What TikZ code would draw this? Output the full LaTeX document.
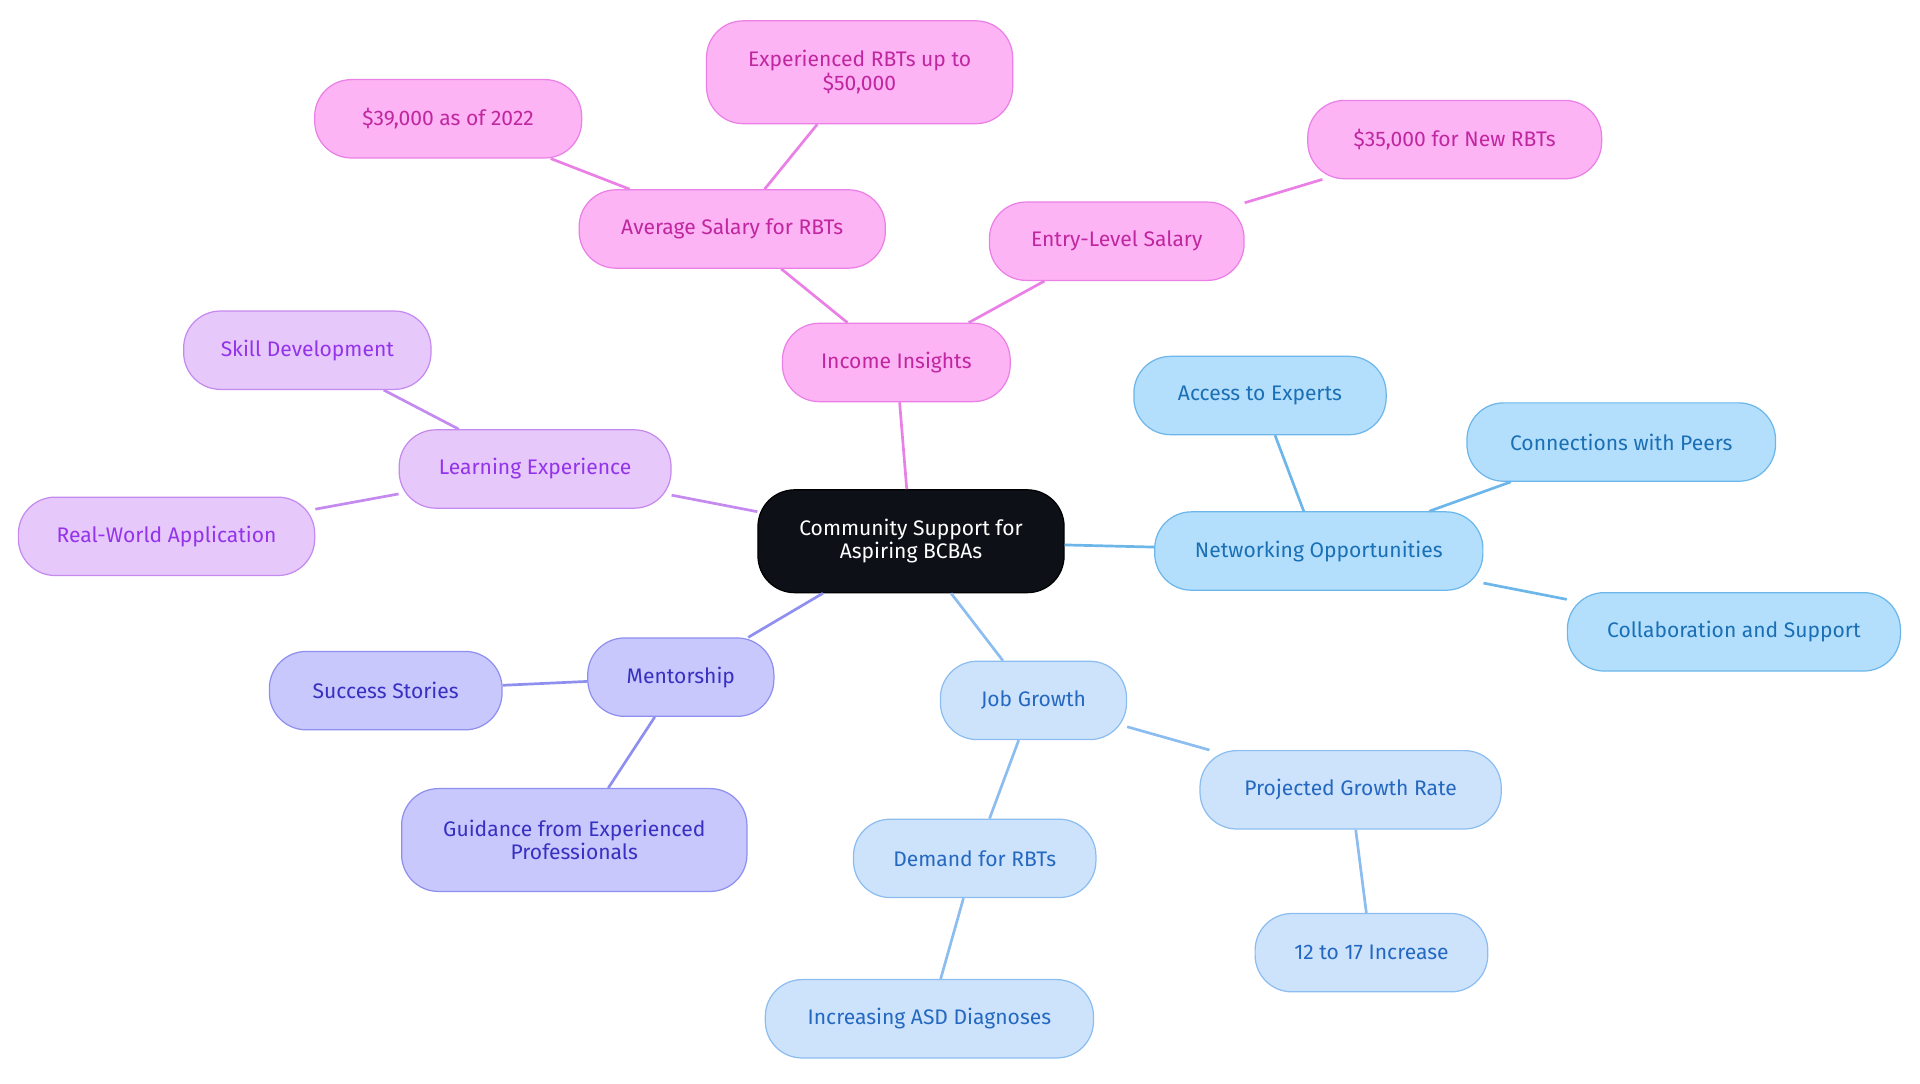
\documentclass[tikz,border=0pt]{standalone}
\usepackage{fontspec}
\setmainfont{Fira Sans}
\begin{document}
\begin{tikzpicture}[x=0.5pt,y=0.5pt,
 base/.style={rounded corners=15pt,draw,line width=0.5pt,minimum height=32pt,align=center,font=\fontsize{8.6}{9.6}\selectfont,inner sep=2pt},
 ctr/.style={base,fill=black!90!blue!60!black,fill=[HTML]{0D1117},text=white},
 pk/.style={base,fill=pkf,draw=pkd,text=pkt},
 pu/.style={base,fill=puf,draw=pud,text=put},
 mv/.style={base,fill=mvf,draw=mvd,text=mvt},
 bl/.style={base,fill=blf,draw=bld,text=blt},
 lb/.style={base,fill=lbf,draw=lbd,text=lbt},
 e/.style={line width=1.1pt}]
\definecolor{cf}{HTML}{0D1117}
\definecolor{pkf}{HTML}{FDB4F4}\definecolor{pkd}{HTML}{EA80E6}\definecolor{pkt}{HTML}{C0269F}
\definecolor{puf}{HTML}{E6C8FB}\definecolor{pud}{HTML}{C58AF0}\definecolor{put}{HTML}{9333EA}
\definecolor{mvf}{HTML}{C8C8FC}\definecolor{mvd}{HTML}{8F8FF0}\definecolor{mvt}{HTML}{3730C0}
\definecolor{blf}{HTML}{B3DFFC}\definecolor{bld}{HTML}{6CB6EA}\definecolor{blt}{HTML}{1A6FB5}
\definecolor{lbf}{HTML}{CDE3FB}\definecolor{lbd}{HTML}{8CBDF0}\definecolor{lbt}{HTML}{2468C0}
\useasboundingbox (0,0) rectangle (1568,-884.5);
\node[base,fill=cf,draw=black,text=white,minimum width=125pt,minimum height=42pt] (c) at (744,-442) {Community Support for\\Aspiring BCBAs};
\node[pk,minimum width=93pt] (ii) at (732,-296) {Income Insights};
\node[pk,minimum width=125pt] (as) at (598,-187) {Average Salary for RBTs};
\node[pk,minimum width=109pt] (s39) at (366,-97) {\$39,000 as of 2022};
\node[pk,minimum width=125pt,minimum height=42pt] (s50) at (702,-59) {Experienced RBTs up to\\\$50,000};
\node[pk,minimum width=104pt] (el) at (912,-197) {Entry-Level Salary};
\node[pk,minimum width=120pt] (s35) at (1188,-114) {\$35,000 for New RBTs};
\node[pu,minimum width=111pt] (le) at (437,-383) {Learning Experience};
\node[pu,minimum width=101pt] (sd) at (251,-286) {Skill Development};
\node[pu,minimum width=121pt] (rw) at (136,-438) {Real-World Application};
\node[mv,minimum width=76pt] (me) at (556,-553) {Mentorship};
\node[mv,minimum width=95pt] (ss) at (315,-564) {Success Stories};
\node[mv,minimum width=141pt,minimum height=42pt] (gu) at (469,-686) {Guidance from Experienced\\Professionals};
\node[bl,minimum width=134pt] (no) at (1077,-450) {Networking Opportunities};
\node[bl,minimum width=103pt] (ae) at (1029,-323) {Access to Experts};
\node[bl,minimum width=126pt] (cp) at (1324,-361) {Connections with Peers};
\node[bl,minimum width=136pt] (cs) at (1416,-516) {Collaboration and Support};
\node[lb,minimum width=76pt] (jg) at (844,-572) {Job Growth};
\node[lb,minimum width=123pt] (pg) at (1103,-645) {Projected Growth Rate};
\node[lb,minimum width=95pt] (inc) at (1120,-778) {12 to 17 Increase};
\node[lb,minimum width=99pt] (dr) at (796,-701) {Demand for RBTs};
\node[lb,minimum width=134pt] (asd) at (759,-832) {Increasing ASD Diagnoses};
\begin{scope}[on background layer/.style={}]
\end{scope}
\begin{pgfinterruptboundingbox}\end{pgfinterruptboundingbox}
\draw[e,pkd] (c)--(ii) (ii)--(as) (as)--(s39) (as)--(s50) (ii)--(el) (el)--(s35);
\draw[e,pud] (c)--(le) (le)--(sd) (le)--(rw);
\draw[e,mvd] (c)--(me) (me)--(ss) (me)--(gu);
\draw[e,bld] (c)--(no) (no)--(ae) (no)--(cp) (no)--(cs);
\draw[e,lbd] (c)--(jg) (jg)--(pg) (pg)--(inc) (jg)--(dr) (dr)--(asd);
\end{tikzpicture}
\end{document}
